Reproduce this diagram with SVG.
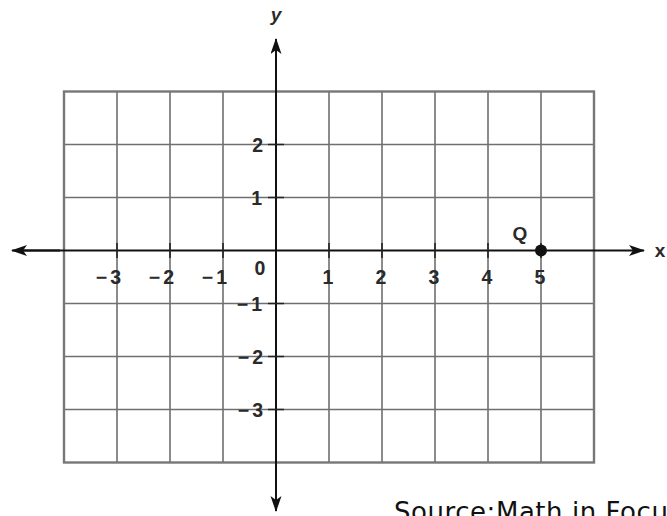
<svg xmlns="http://www.w3.org/2000/svg" width="667" height="516" viewBox="0 0 667 516">
<style>
.grid{stroke:#6f6f6f;stroke-width:1.6;fill:none}
.border{stroke:#777;stroke-width:2.4;fill:none}
.axis{stroke:#111;stroke-width:2;fill:none}
.tick{stroke:#222;stroke-width:1.6}
.num{font-family:"Liberation Sans",Arial,sans-serif;font-weight:bold;font-size:19.5px;fill:#2a2a2a}
.lbl{font-family:"Liberation Sans",Arial,sans-serif;font-weight:bold;font-size:19px;fill:#2a2a2a}
.src{font-family:"DejaVu Sans","Liberation Sans",sans-serif;font-size:26px;fill:#111}
</style>
<defs>
<marker id="arr" markerUnits="userSpaceOnUse" markerWidth="18" markerHeight="12" refX="15" refY="5.5" orient="auto">
<path d="M0,0 L16,5.5 L0,11 L4,5.5 z" fill="#111"/>
</marker>
</defs>
<rect width="667" height="516" fill="#fff"/>
<g id="grid">
<path class="grid" d="M117,91.5V462.5M170,91.5V462.5M223,91.5V462.5M329,91.5V462.5M382,91.5V462.5M435,91.5V462.5M488,91.5V462.5M541,91.5V462.5"/>
<path class="grid" d="M64,144.5H594M64,197.5H594M64,303.5H594M64,356.5H594M64,409.5H594"/>
<rect class="border" x="64" y="91.5" width="530" height="371"/>
</g>
<g id="connectors">
<line id="x-axis" class="axis" x1="22" y1="250.5" x2="644" y2="250.5" marker-end="url(#arr)"/>
<line id="x-axis-left" class="axis" x1="60" y1="250.5" x2="12" y2="250.5" marker-end="url(#arr)"/>
<line id="y-axis" class="axis" x1="276" y1="500" x2="276" y2="39" marker-end="url(#arr)"/>
<line id="y-axis-down" class="axis" x1="276" y1="480" x2="276" y2="511" marker-end="url(#arr)"/>
</g>
<g id="ticks">
<path class="tick" d="M117,243V258M170,243V258M223,243V258M329,243V258M382,243V258M435,243V258M488,243V258M541,243V258"/>
<path class="tick" d="M268,144.5H284M268,197.5H284M268,303.5H284M268,356.5H284M268,409.5H284"/>
</g>
<g id="x-labels">
<text class="num" x="121" y="284" text-anchor="end">−<tspan dx="3">3</tspan></text>
<text class="num" x="174" y="284" text-anchor="end">−<tspan dx="3">2</tspan></text>
<text class="num" x="227" y="284" text-anchor="end">−<tspan dx="3">1</tspan></text>
<text class="num" x="260" y="275" text-anchor="middle">0</text>
<text class="num" x="328" y="284" text-anchor="middle">1</text>
<text class="num" x="381" y="284" text-anchor="middle">2</text>
<text class="num" x="434" y="284" text-anchor="middle">3</text>
<text class="num" x="487" y="284" text-anchor="middle">4</text>
<text class="num" x="540" y="284" text-anchor="middle">5</text>
</g>
<g id="y-labels">
<text class="num" x="263" y="152" text-anchor="end">2</text>
<text class="num" x="262" y="205" text-anchor="end">1</text>
<text class="num" x="262" y="311" text-anchor="end">−<tspan dx="3">1</tspan></text>
<text class="num" x="263" y="364" text-anchor="end">−<tspan dx="3">2</tspan></text>
<text class="num" x="263" y="417" text-anchor="end">−<tspan dx="3">3</tspan></text>
</g>
<g id="axis-names">
<text class="lbl" x="276" y="21" text-anchor="middle" font-style="italic">y</text>
<text class="lbl" x="660" y="257" text-anchor="middle">x</text>
</g>
<g id="point-Q">
<circle cx="541" cy="250.5" r="6" fill="#111"/>
<text class="lbl" x="520" y="240" text-anchor="middle">Q</text>
</g>
<text id="source" class="src" x="394" y="521" textLength="288" lengthAdjust="spacing">Source:Math in Focus</text>
</svg>
